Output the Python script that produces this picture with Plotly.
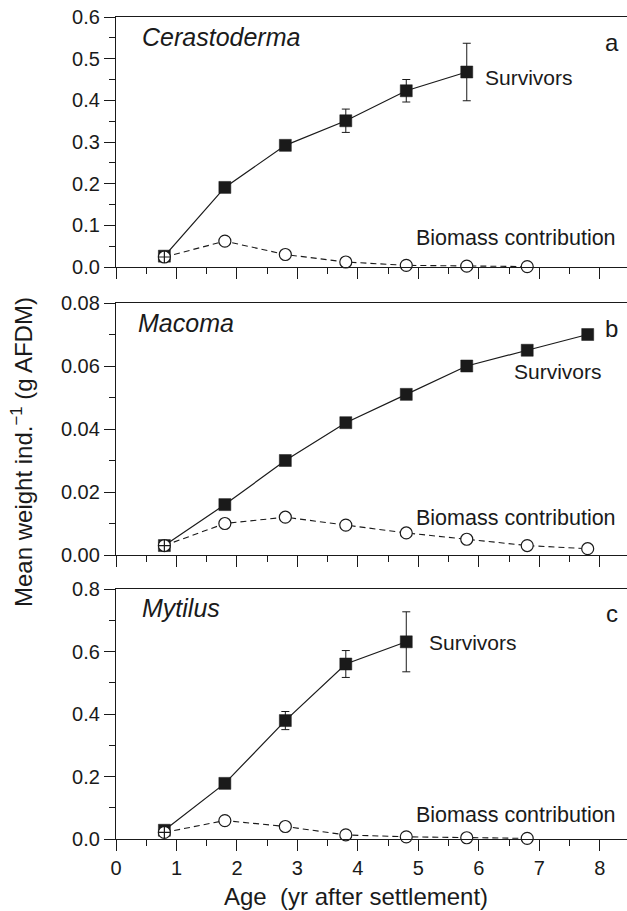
import plotly.graph_objects as go

# ---------------- data ----------------
age_a_surv = [0.8, 1.8, 2.8, 3.8, 4.8, 5.8]
cer_surv = [0.026, 0.191, 0.292, 0.351, 0.423, 0.468]
cer_surv_err = [0.0, 0.0, 0.008, 0.028, 0.027, 0.069]
age_a_bio = [0.8, 1.8, 2.8, 3.8, 4.8, 5.8, 6.8]
cer_bio = [0.024, 0.062, 0.030, 0.012, 0.004, 0.002, 0.001]

age_b_surv = [0.8, 1.8, 2.8, 3.8, 4.8, 5.8, 6.8, 7.8]
mac_surv = [0.003, 0.016, 0.030, 0.042, 0.051, 0.060, 0.065, 0.070]
age_b_bio = [0.8, 1.8, 2.8, 3.8, 4.8, 5.8, 6.8, 7.8]
mac_bio = [0.003, 0.010, 0.012, 0.0095, 0.007, 0.005, 0.003, 0.002]

age_c_surv = [0.8, 1.8, 2.8, 3.8, 4.8]
myt_surv = [0.028, 0.178, 0.379, 0.560, 0.631]
myt_surv_err = [0.0, 0.0, 0.029, 0.043, 0.096]
age_c_bio = [0.8, 1.8, 2.8, 3.8, 4.8, 5.8, 6.8]
myt_bio = [0.021, 0.059, 0.040, 0.013, 0.007, 0.004, 0.002]

x_ticks = [0, 1, 2, 3, 4, 5, 6, 7, 8]

FONT = "Liberation Sans, Arial, sans-serif"
INK = "#1a1a1a"
W, H = 627, 911
ML = 116

fig = go.Figure()

panels = [
    dict(xs=age_a_surv, ys=cer_surv, err=cer_surv_err, xb=age_a_bio, yb=cer_bio, ax="", name="Cerastoderma", letter="a"),
    dict(xs=age_b_surv, ys=mac_surv, err=None, xb=age_b_bio, yb=mac_bio, ax="2", name="Macoma", letter="b"),
    dict(xs=age_c_surv, ys=myt_surv, err=myt_surv_err, xb=age_c_bio, yb=myt_bio, ax="3", name="Mytilus", letter="c"),
]

for p in panels:
    xr = "x" + p["ax"]
    yr = "y" + p["ax"]
    ey = None
    if p["err"] is not None:
        ey = dict(type="data", array=p["err"], visible=True, color=INK, thickness=1, width=4)
    fig.add_trace(go.Scatter(
        x=p["xs"], y=p["ys"], mode="lines+markers", xaxis=xr, yaxis=yr,
        line=dict(color=INK, width=1.2),
        marker=dict(symbol="square", size=12, color=INK, line=dict(color=INK, width=0.5)),
        error_y=ey, cliponaxis=False, showlegend=False, hoverinfo="skip"))
    syms = ["circle-cross"] + ["circle"] * (len(p["xb"]) - 1)
    fig.add_trace(go.Scatter(
        x=p["xb"], y=p["yb"], mode="lines+markers", xaxis=xr, yaxis=yr,
        line=dict(color=INK, width=1.1, dash="6px,4px"),
        marker=dict(symbol=syms, size=12, color="white", line=dict(color=INK, width=1.2)),
        cliponaxis=False, showlegend=False, hoverinfo="skip"))

def dom(top, bottom):
    return [1 - bottom / H, 1 - top / H]

y_specs = [
    dict(dom=dom(17, 267), rng=[0, 0.6], dtick=0.1, fmt=".1f", minor=0.05),
    dict(dom=dom(303, 555), rng=[0, 0.08], dtick=0.02, fmt=".2f", minor=0.01),
    dict(dom=dom(589, 839), rng=[0, 0.8], dtick=0.2, fmt=".1f", minor=0.1),
]

layout = dict(
    width=W, height=H, margin=dict(l=ML, r=0, t=0, b=0),
    paper_bgcolor="white", plot_bgcolor="white",
    font=dict(family=FONT, color=INK, size=20),
    showlegend=False,
)

for i, (p, ys) in enumerate(zip(panels, y_specs)):
    suf = p["ax"]
    layout["xaxis" + suf] = dict(
        domain=[0, 1], range=[0, 8.45], anchor="y" + suf,
        tickmode="array", tickvals=x_ticks, ticktext=[str(v) for v in x_ticks],
        ticks="outside", ticklen=11, tickwidth=1.2, tickcolor=INK,
        showline=True, linecolor=INK, linewidth=1.3, mirror=True,
        showgrid=False, zeroline=False, showticklabels=(i == 2),
        tickfont=dict(size=20, family=FONT, color=INK),
        minor=dict(dtick=0.5, tick0=0, ticks="outside", ticklen=6, tickwidth=1.2, tickcolor=INK),
        automargin=False, fixedrange=True,
    )
    layout["yaxis" + suf] = dict(
        domain=ys["dom"], range=ys["rng"], anchor="x" + suf,
        dtick=ys["dtick"], tick0=0, tickformat=ys["fmt"],
        ticks="outside", ticklen=11, tickwidth=1.2, tickcolor=INK,
        showline=True, linecolor=INK, linewidth=1.3, mirror=False,
        showgrid=False, zeroline=False,
        tickfont=dict(size=20, family=FONT, color=INK),
        minor=dict(dtick=ys["minor"], tick0=0, ticks="outside", ticklen=6, tickwidth=1.2, tickcolor=INK),
        automargin=False, fixedrange=True,
    )

fig.update_layout(**layout)

label_pos = [
    dict(name=(0.40, 0.552), letter=(8.2, 0.538), surv=(6.07, 0.456), bio=(4.93, 0.070)),
    dict(name=(0.33, 0.0737), letter=(8.2, 0.072), surv=(6.55, 0.0584), bio=(4.93, 0.0117)),
    dict(name=(0.40, 0.739), letter=(8.2, 0.723), surv=(5.14, 0.630), bio=(4.93, 0.077)),
]
for p, lp in zip(panels, label_pos):
    xr = "x" + p["ax"]
    yr = "y" + p["ax"]
    fig.add_annotation(x=lp["name"][0], y=lp["name"][1], xref=xr, yref=yr, text="<i>%s</i>" % p["name"],
                       showarrow=False, xanchor="left", yanchor="middle", font=dict(size=25))
    fig.add_annotation(x=lp["letter"][0], y=lp["letter"][1], xref=xr, yref=yr, text=p["letter"],
                       showarrow=False, xanchor="center", yanchor="middle", font=dict(size=24))
    fig.add_annotation(x=lp["surv"][0], y=lp["surv"][1], xref=xr, yref=yr, text="Survivors",
                       showarrow=False, xanchor="left", yanchor="middle", font=dict(size=21))
    fig.add_annotation(x=lp["bio"][0], y=lp["bio"][1], xref=xr, yref=yr, text="Biomass contribution",
                       showarrow=False, xanchor="left", yanchor="middle", font=dict(size=21.5))

PW = W - ML
fig.add_annotation(x=(356 - ML) / PW, y=1 - 896 / H, xref="paper", yref="paper",
                   text="Age\u00a0 (yr after settlement)", showarrow=False,
                   xanchor="center", yanchor="middle", font=dict(size=24))
fig.add_annotation(x=(22 - ML) / PW, y=1 - 452 / H, xref="paper", yref="paper",
                   text="Mean weight ind.<sup>\u22121</sup> (g AFDM)", showarrow=False, textangle=-90,
                   xanchor="center", yanchor="middle", font=dict(size=24))

fig.write_html("out.html")
